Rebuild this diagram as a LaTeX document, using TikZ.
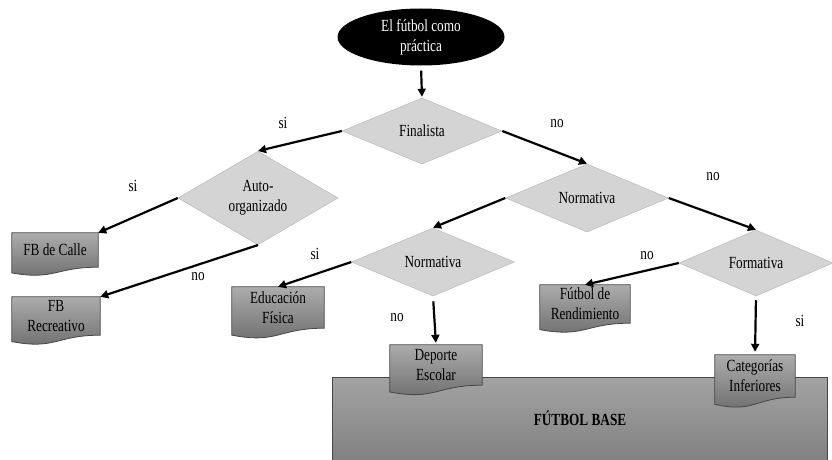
\documentclass[tikz,border=0pt]{standalone}
\usepackage{fontspec}
\setmainfont[FakeStretch=0.78]{Liberation Serif}
\usetikzlibrary{shapes.geometric,arrows.meta,calc,backgrounds}

\definecolor{diafill}{RGB}{212,212,212}
\definecolor{diaedge}{RGB}{185,185,185}
\definecolor{doctop}{RGB}{172,172,172}
\definecolor{docbot}{RGB}{108,108,108}
\definecolor{docedge}{RGB}{70,70,70}
\definecolor{basetop}{RGB}{162,162,162}
\definecolor{basebot}{RGB}{126,126,126}

% wavy-bottom "document" outline around a rectangle node
\newcommand\docoutline[1]{%
  \shade[top color=doctop,bottom color=docbot,draw=docedge,line width=0.8pt]
    (#1.north west) -- (#1.north east) -- (#1.south east)
    .. controls (#1.south) and ($(#1.south)!-0.384!(#1.north)$)
    .. ($(#1.south west)!-0.1675!(#1.north west)$) -- cycle;}

\begin{document}
\begin{tikzpicture}[x=1pt,y=-1pt,
  txt/.style={font=\fontsize{17}{20}\selectfont},
  decision/.style={diamond,txt,fill=diafill,draw=diaedge,line width=0.5pt,
    inner sep=0pt,align=center},
  docbox/.style={rectangle,txt,inner sep=0pt,align=center},
  lbl/.style={txt,inner sep=1pt},
  arr/.style={line width=2.2pt,-{Triangle[length=8pt,width=8pt]}}]
\clip (0,0) rectangle (832,460);
\useasboundingbox (0,0) rectangle (832,460);

% start
\node[ellipse,fill=black,text=white,txt,align=center,inner sep=0pt,
  minimum width=167,minimum height=57] (start) at (421,37)
  {El fútbol como\\práctica};

% decisions
\node[decision,minimum width=160,minimum height=66] (fin) at (422,131) {Finalista};
\node[decision,minimum width=160,minimum height=66] (auto) at (258,198) {Auto-\\organizado};
\node[decision,minimum width=163,minimum height=66] (norm1) at (587,198) {Normativa};
\node[decision,minimum width=163,minimum height=62] (norm2) at (433,262) {Normativa};
\node[decision,minimum width=154,minimum height=66] (form) at (756,263) {Formativa};

% base block
\node[txt,minimum width=494,minimum height=90,inner sep=0pt] (base) at (580,423) {};
\node[txt,font=\fontsize{17}{20}\selectfont\bfseries] (basetxt) at (580,418) {FÚTBOL BASE};

% outcomes
\node[docbox,minimum width=86,minimum height=34] (calle) at (55,250) {FB de Calle};
\node[docbox,minimum width=88,minimum height=38] (recre) at (56,316) {FB\\Recreativo};
\node[docbox,minimum width=92,minimum height=41] (edu) at (278,307.5) {Educación\\Física};
\node[docbox,minimum width=92,minimum height=40] (dep) at (436,365) {Deporte\\Escolar};
\node[docbox,minimum width=90,minimum height=38] (rend) at (585,304) {Fútbol de\\Rendimiento};
\node[docbox,minimum width=80,minimum height=42] (cat) at (755,376) {Categorías\\Inferiores};

\begin{scope}[on background layer]
  \shade[top color=basetop,bottom color=basebot,draw=docedge,line width=0.8pt]
    (base.north west) rectangle (base.south east);
  \docoutline{calle}
  \docoutline{recre}
  \docoutline{edu}
  \docoutline{dep}
  \docoutline{rend}
  \docoutline{cat}
\end{scope}

% connectors
\draw[arr,shorten <=5pt,shorten >=1pt] (start.south) -- (fin.north);
\draw[arr] (fin.west) -- (auto.north);
\draw[arr] (fin.east) -- (norm1.north);
\draw[arr] (auto.west) -- (calle.north east);
\draw[arr] (auto.south) -- (recre.north east);
\draw[arr] (norm1.west) -- (norm2.north);
\draw[arr] (norm1.east) -- (form.north);
\draw[arr] (norm2.west) -- (edu.north);
\draw[arr,shorten <=5pt,shorten >=2pt] (norm2.south) -- (dep.north);
\draw[arr] (form.west) -- (rend.north);
\draw[arr,shorten <=4pt,shorten >=3pt] (form.south) -- (cat.north);

% branch labels
\node[lbl] (l1) at (283,123) {si};
\node[lbl] (l2) at (557,124) {no};
\node[lbl] (l3) at (133,186) {si};
\node[lbl] (l4) at (198,277) {no};
\node[lbl] (l5) at (713,177) {no};
\node[lbl] (l6) at (315,254) {si};
\node[lbl] (l7) at (397,318) {no};
\node[lbl] (l8) at (647,256) {no};
\node[lbl] (l9) at (800,321) {si};
\end{tikzpicture}
\end{document}
